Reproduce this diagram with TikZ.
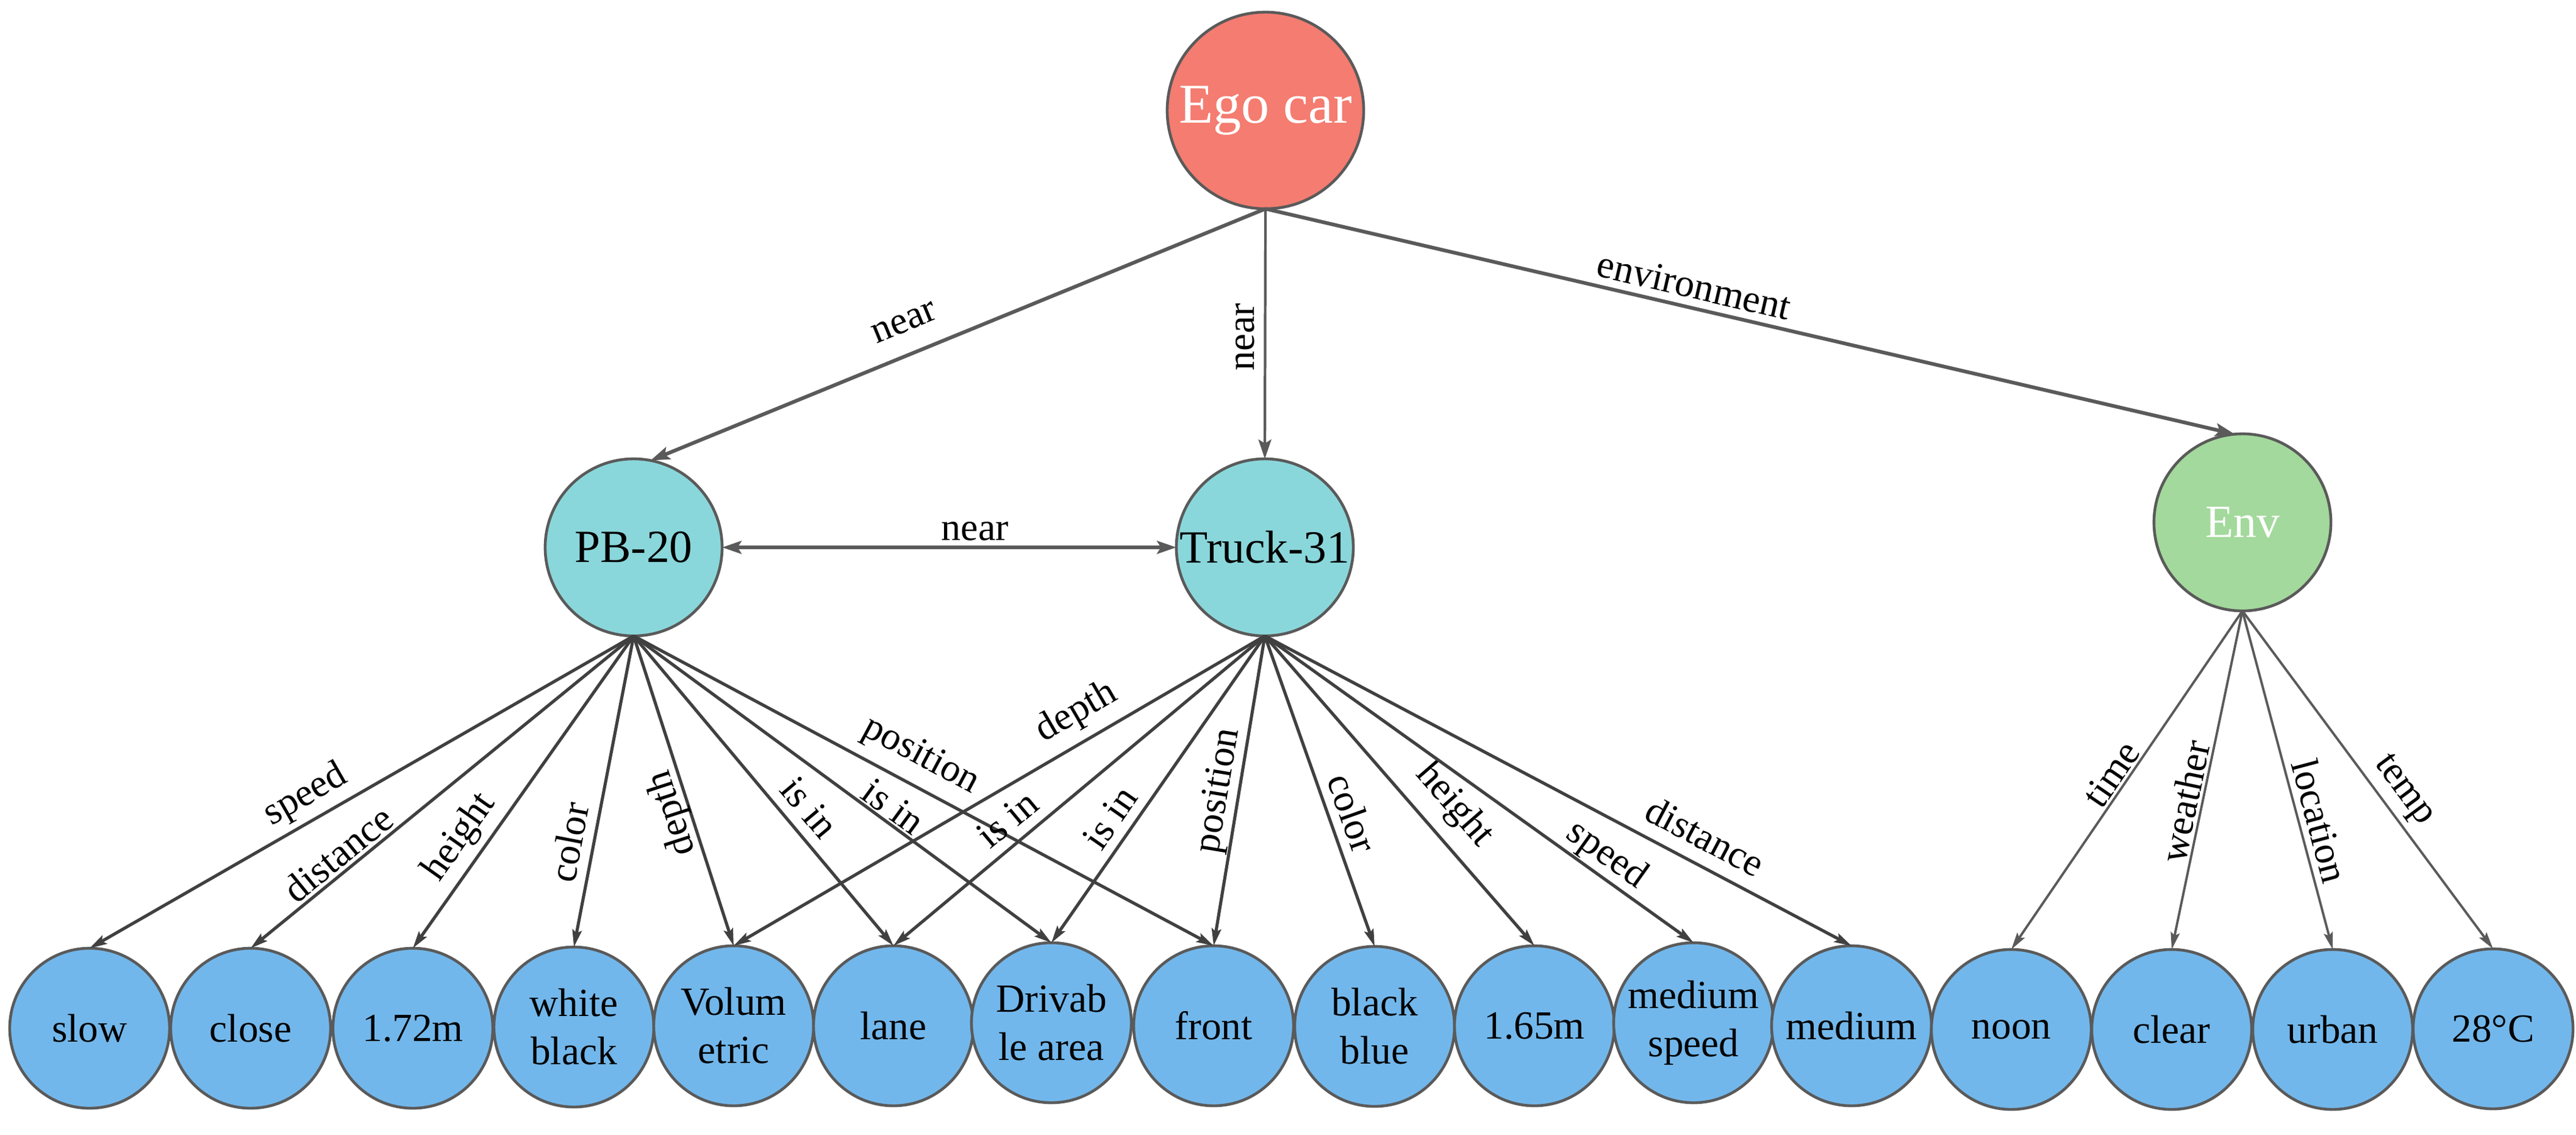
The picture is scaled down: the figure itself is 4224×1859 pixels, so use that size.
\documentclass[tikz,border=0pt]{standalone}
\usepackage{fontspec}
\setmainfont{Liberation Serif}
\usetikzlibrary{arrows.meta}
\definecolor{egoc}{HTML}{F47C70}
\definecolor{objc}{HTML}{8AD7DB}
\definecolor{envc}{HTML}{A3D99C}
\definecolor{attc}{HTML}{72B7EB}
\definecolor{brd}{HTML}{5A5A5A}
\definecolor{edgedark}{HTML}{404040}
\begin{document}
\begin{tikzpicture}[x=0.01cm, y=-0.01cm,
  circ/.style={circle, draw=brd, line width=1.3pt, inner sep=0pt, outer sep=0pt},
  egonode/.style={circ, fill=egoc, minimum size=3.22cm, text=white, font=\fontsize{26.2}{30}\selectfont},
  objnode/.style={circ, fill=objc, minimum size=2.9cm, font=\fontsize{21.5}{25}\selectfont},
  envnode/.style={circ, fill=envc, minimum size=2.9cm, text=white, font=\fontsize{21.5}{25}\selectfont},
  attnode/.style={circ, fill=attc, minimum size=2.62cm, align=center, font=\fontsize{18.6}{22.5}\selectfont},
  lbltxt/.style={inner sep=0pt, font=\fontsize{18.2}{20}\selectfont},
  lbl/.style={lbltxt, sloped},
  topedge/.style={draw=brd, line width=1.7pt, -{Stealth[length=9pt,width=6pt,inset=1.8pt]}},
  attedge/.style={draw=edgedark, line width=1.45pt, -{Stealth[length=8pt,width=4.4pt,inset=1.4pt]}},
  envedge/.style={draw=brd, line width=1.1pt, -{Stealth[length=8pt,width=4.2pt,inset=1.4pt]}}
]
\useasboundingbox (0,0) rectangle (4224,1859);

% main nodes
\node[egonode] (ego) at (2075,181) {Ego car};
\node[objnode] (pb) at (1039,897) {PB-20};
\node[objnode] (truck) at (2074,897) {Truck-31};
\node[envnode] (env) at (3677,856) {Env};

% attribute nodes
\node[attnode] (slow) at (147,1685) {slow};
\node[attnode] (close) at (411,1685) {close};
\node[attnode] (hA) at (677,1685) {1.72m};
\node[attnode] (wb) at (941,1683) {white\\black};
\node[attnode] (vol) at (1203,1681) {Volum\\etric};
\node[attnode] (lane) at (1465,1681) {lane};
\node[attnode] (driv) at (1724,1676) {Drivab\\le area};
\node[attnode] (front) at (1990,1681) {front};
\node[attnode] (bb) at (2254,1682) {black\\blue};
\node[attnode] (hB) at (2516,1681) {1.65m};
\node[attnode] (ms) at (2777,1676) {medium\\speed};
\node[attnode] (med) at (3036,1681) {medium};
\node[attnode] (noon) at (3298,1687) {noon};
\node[attnode] (clear) at (3561,1687) {clear};
\node[attnode] (urban) at (3825,1687) {urban};
\node[attnode] (temp) at (4088,1686) {28°C};

% top edges
\draw[topedge] (ego.south) -- node[lbl, pos=.568, yshift=.512cm]{near} (pb.79);
\draw[topedge, line width=1.2pt] (ego.south) -- node[lbltxt, pos=.512, xshift=-.33cm, rotate=90]{near} (truck.north);
\draw[topedge] (ego.south) -- node[lbl, pos=.437, yshift=.364cm]{environment} (env.95);
\draw[draw=brd, line width=1.7pt, {Stealth[length=9pt,width=6pt,inset=1.8pt]}-{Stealth[length=9pt,width=6pt,inset=1.8pt]}]
  (pb.east) -- node[lbl, pos=.557, yshift=.26cm]{near} (truck.west);

% PB-20 edges
\draw[attedge] (pb.south) -- node[lbl, pos=.58, yshift=.406cm]{speed} (slow.north);
\draw[attedge] (pb.south) -- node[lbl, pos=.742, yshift=.298cm]{distance} (close.north);
\draw[attedge] (pb.south) -- node[lbl, pos=.692, yshift=.419cm]{height} (hA.north);
\draw[attedge] (pb.south) -- node[lbl, pos=.678, yshift=.402cm]{color} (wb.north);
\draw[attedge] (pb.south) -- node[lbl, pos=.554, yshift=-.281cm, rotate=180]{depth} (vol.north);
\draw[attedge] (pb.south) -- node[lbl, pos=.604, yshift=.399cm]{is in} (lane.north);
\draw[attedge] (pb.south) -- node[lbl, pos=.599, yshift=.265cm]{is in} (driv.north);
\draw[attedge] (pb.south) -- node[lbl, pos=.471, yshift=.476cm]{position} (front.north);

% Truck-31 edges
\draw[attedge] (truck.south) -- node[lbl, pos=.327, yshift=.468cm]{depth} (vol.north);
\draw[attedge] (truck.south) -- node[lbl, pos=.651, yshift=.397cm]{is in} (lane.north);
\draw[attedge] (truck.south) -- node[lbl, pos=.636, yshift=.383cm]{is in} (driv.north);
\draw[attedge] (truck.south) -- node[lbl, pos=.510, yshift=.316cm]{position} (front.north);
\draw[attedge] (truck.south) -- node[lbl, pos=.595, yshift=.389cm]{color} (bb.north);
\draw[attedge] (truck.south) -- node[lbl, pos=.614, yshift=.517cm]{height} (hB.north);
\draw[attedge] (truck.south) -- node[lbl, pos=.769, yshift=.332cm]{speed} (ms.north);
\draw[attedge] (truck.south) -- node[lbl, pos=.728, yshift=.466cm]{distance} (med.north);

% Env edges
\draw[envedge] (env.south) -- node[lbl, pos=.509, yshift=.270cm]{time} (noon.north);
\draw[envedge] (env.south) -- node[lbl, pos=.573, yshift=.284cm]{weather} (clear.north);
\draw[envedge] (env.south) -- node[lbl, pos=.636, yshift=.343cm]{location} (urban.north);
\draw[envedge] (env.south) -- node[lbl, pos=.571, yshift=.354cm]{temp} (temp.north);
\end{tikzpicture}
\end{document}
